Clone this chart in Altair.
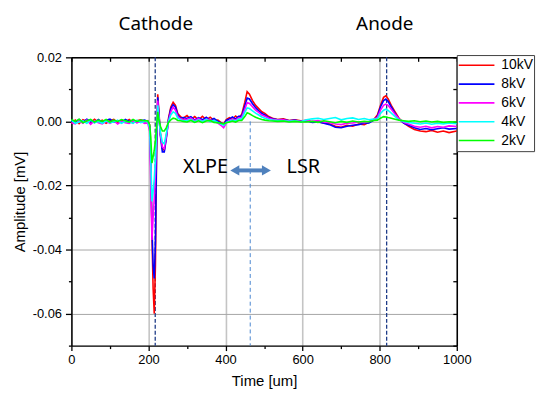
import altair as alt
import pandas as pd

# ---------------- data (amplitudes, in µV) ----------------
series = ["10kV", "8kV", "6kV", "4kV", "2kV"]
colors = ["#ff0000", "#0000ff", "#ff00ff", "#00ffff", "#00ff00"]

time_um = [0, 10, 20, 30, 40, 50, 60, 70, 80, 90, 100, 110, 120, 130, 140, 150, 160, 170, 180, 190,
           198, 203, 206, 209, 212, 215, 218, 221, 224, 227, 231, 236, 241, 246, 252, 258, 264, 270, 276, 283, 290,
           300, 310, 320, 330, 340, 350, 360, 370, 380, 388, 395, 402, 410, 418, 426, 434, 442,
           450, 456, 462, 470, 478, 486, 494, 502, 512, 522, 535, 550, 565, 580, 595,
           610, 625, 640, 655, 670, 685, 700, 715, 730, 745, 760, 772, 784,
           794, 802, 810, 816, 822, 830, 840, 850, 862, 875, 890, 905, 920, 935, 950, 965, 980, 1000]

amp_10kV = [-0.6, 0.4, -0.7, 0.5, 0.0, -0.4, 0.7, -0.2, 0.4, -0.6, 0.2, 0.6, -0.4, 0.4, -0.2, 0.6, -0.4, 0.2, 0.5, -0.2,
            0.2, -1.0, -12.0, -35.0, -52.0, -60.0, -45.0, -10.0, 8.5, 3.0, -4.0, -8.5, -9.0, -5.0, 1.0, 4.5, 6.0, 5.0, 2.5, 1.5, 1.0,
            1.8, 0.6, 1.5, 0.4, 1.6, 0.5, 1.3, 0.3, 0.4, -0.3, -0.8, 0.6, 1.2, 0.6, 1.7, 1.0, 2.2,
            6.0, 9.3, 8.5, 6.5, 5.0, 4.0, 3.0, 2.5, 1.5, 1.0, 0.6, 0.8, 0.3, 0.5, 0.2,
            0.3, -0.2, 0.0, -0.5, -0.8, -1.5, -1.8, -1.2, -1.5, -0.8, -1.0, -0.3, 0.5,
            2.0, 5.0, 7.5, 8.0, 7.0, 5.0, 3.0, 1.0, -0.5, -1.5, -2.5, -3.0, -3.2, -2.8, -3.4, -3.0, -3.5, -3.0]

amp_8kV = [0.2, -0.4, 0.6, -0.2, 0.7, 0.0, -0.4, 0.6, -0.2, 0.4, 0.7, -0.2, 0.2, -0.4, 0.6, 0.0, 0.4, -0.4, 0.2, 0.4,
           0.0, -1.5, -14.0, -33.0, -45.0, -49.0, -38.0, -8.0, 7.5, 2.5, -4.5, -9.5, -9.5, -5.5, 0.5, 4.0, 5.2, 4.5, 2.0, 1.0, 1.2,
           0.9, 1.5, 0.4, 1.2, 0.5, 1.3, 0.4, 0.9, 0.0, -0.5, -1.0, 0.3, 0.8, 1.4, 0.7, 1.6, 1.7,
           4.8, 7.3, 7.0, 5.5, 4.3, 3.3, 2.5, 2.0, 1.2, 0.8, 0.5, 0.6, 0.2, 0.4, 0.0,
           0.2, -0.3, -0.2, -0.6, -1.0, -1.8, -2.0, -1.5, -1.2, -1.0, -0.6, -0.5, 0.3,
           1.5, 4.5, 6.5, 7.0, 6.2, 4.5, 2.5, 0.8, -0.5, -1.2, -2.0, -2.5, -2.2, -2.6, -2.3, -2.0, -2.4, -2.2]

amp_6kV = [-0.4, -0.8, 0.2, -0.6, 0.4, -0.9, 0.2, -0.4, -0.8, 0.0, -0.6, 0.2, -0.8, 0.0, -0.4, -0.6, 0.2, -0.4, 0.0, -0.6,
           -0.5, -3.0, -20.0, -37.0, -30.0, -24.0, -16.0, -4.0, 6.5, 1.5, -4.0, -8.0, -8.5, -5.0, 0.0, 3.0, 4.5, 3.5, 1.5, 0.8, 0.5,
           0.7, 1.0, 0.2, 0.9, 0.1, 0.7, 0.5, 0.0, -0.5, -1.2, -2.0, -0.5, 0.3, 0.7, 0.4, 1.1, 1.2,
           3.8, 5.9, 5.6, 4.6, 3.5, 2.8, 2.0, 1.6, 1.0, 0.7, 0.4, 0.5, 0.1, 0.3, 0.0,
           0.4, 0.0, 0.3, -0.2, -0.3, -0.8, -1.0, -0.6, -0.5, -0.2, -0.4, 0.0, 0.6,
           1.2, 3.5, 5.0, 5.4, 5.0, 3.8, 2.2, 0.8, -0.3, -0.8, -1.5, -1.8, -1.5, -2.0, -1.6, -1.8, -1.4, -1.6]

amp_4kV = [0.4, -0.6, -0.2, 0.2, -0.6, 0.4, -0.4, 0.0, -0.6, 0.2, -0.4, -0.2, 0.4, -0.6, 0.0, -0.2, -0.6, 0.4, -0.4, 0.0,
           0.0, -2.0, -12.0, -25.0, -22.0, -18.0, -12.0, -3.0, 5.0, 1.0, -3.5, -6.5, -7.0, -4.0, 0.0, 2.0, 3.0, 2.5, 1.0, 0.5, 0.2,
           0.3, 0.6, -0.1, 0.5, 0.0, 0.6, -0.1, 0.3, -0.3, -0.8, -1.2, -0.3, 0.0, 0.4, 0.1, 0.7, 0.7,
           2.8, 4.2, 4.0, 3.3, 2.6, 2.0, 1.4, 1.0, 0.6, 0.4, 0.3, 0.2, 0.0, 0.2, -0.1,
           0.5, 0.8, 1.0, 0.6, 0.9, 1.2, 0.5, 0.9, 1.1, 0.6, 0.9, 0.5, 0.7,
           0.8, 2.5, 3.5, 3.8, 3.4, 2.6, 1.5, 0.5, 0.0, -0.3, -0.6, -0.8, -0.5, -0.9, -0.6, -0.8, -0.5, -0.7]

amp_2kV = [0.6, 0.0, 0.7, -0.4, 0.2, 0.6, -0.2, 0.4, 0.0, 0.6, -0.2, 0.4, 0.0, 0.6, 0.2, -0.2, 0.6, 0.0, 0.4, 0.2,
           0.2, -1.0, -5.0, -13.0, -11.0, -9.0, -6.0, -1.5, 3.0, 0.5, -1.5, -3.0, -3.0, -2.0, -0.3, 0.5, 1.0, 0.8, 0.3, 0.2, 0.0,
           -0.2, 0.3, -0.3, 0.2, -0.4, 0.1, 0.3, -0.3, -0.4, -0.6, -0.8, -0.4, -0.2, 0.1, -0.2, 0.3, 0.3,
           1.5, 2.7, 2.4, 1.8, 1.3, 0.9, 0.6, 0.4, 0.2, 0.1, 0.0, 0.1, -0.2, 0.0, -0.2,
           -0.2, 0.0, -0.3, 0.2, -0.1, -0.4, 0.0, -0.3, 0.1, -0.2, 0.0, -0.1, 0.3,
           0.4, 1.0, 1.5, 1.4, 1.2, 1.0, 0.7, 0.4, 0.2, 0.0, 0.2, -0.1, 0.1, -0.2, 0.0, -0.3, -0.1, -0.2]

# annotations
electrode_t = [217.5, 818]          # dark dashed lines
electrode_labels = ["Cathode", "Anode"]
electrode_label_t = [219, 813]
interface_t = [464]                 # light dashed line (XLPE/LSR interface)
region_labels = ["XLPE", "LSR"]
region_label_t = [348, 602]
region_label_v = [-0.0162, -0.0162]
arrow_t = [428, 502]
arrow_v = -0.0153
arrow_head_t = [424, 506]
arrow_head_shape = ["triangle-left", "triangle-right"]

x_ticks = [0, 200, 400, 600, 800, 1000]
x_minor = [100, 300, 500, 700, 900]
x_box = [0, 100, 200, 300, 400, 500, 600, 700, 800, 900, 1000]
y_ticks = [-0.06, -0.04, -0.02, 0.0, 0.02]
y_minor = [-0.07, -0.05, -0.03, -0.01, 0.01]
y_box = [-0.07, -0.06, -0.05, -0.04, -0.03, -0.02, -0.01, 0.0, 0.01, 0.02]

# ---------------- tables ----------------
rows = []
for name, vals in zip(series, [amp_10kV, amp_8kV, amp_6kV, amp_4kV, amp_2kV]):
    for t, v in zip(time_um, vals):
        rows.append({"t": t, "v": v / 1000.0, "s": name})   # µV -> mV
df = pd.DataFrame(rows)

W, H = 389, 291
FONT = "Liberation Sans"
xscale = alt.Scale(domain=[0, 1000], nice=False, zero=False)
yscale = alt.Scale(domain=[-0.07, 0.02], nice=False, zero=False)

common_axis = dict(domainColor="black", domainWidth=1.5, tickColor="black", tickWidth=1.3,
                   labelFont=FONT, labelFontSize=13, labelColor="black",
                   titleFont=FONT, titleFontSize=15, titleFontWeight="normal", titleColor="black")

x_main_axis = alt.Axis(values=x_ticks, title="Time [um]", orient="bottom", tickSize=5, labelPadding=3,
                       grid=True, gridColor="#c4c4c4", gridWidth=1.6, titlePadding=7, format="d",
                       labelFlush=False, labelOverlap=False, **common_axis)
y_main_axis = alt.Axis(values=y_ticks, title="Amplitude [mV]", orient="left", tickSize=6, labelPadding=4,
                       grid=True, gridColor="#a6a6a6", gridWidth=1, titlePadding=5,
                       labelExpr="replace(format(datum.value, '.2f'), '\u2212', '-')",
                       labelFlush=False, labelOverlap=False, **common_axis)
x_minor_axis = alt.Axis(values=x_minor, title="", orient="bottom", tickSize=3, labels=False,
                        grid=False, domain=False, tickColor="black", tickWidth=1.3)
y_minor_axis = alt.Axis(values=y_minor, title="", orient="left", tickSize=3, labels=False,
                        grid=False, domain=False, tickColor="black", tickWidth=1.3)
x_top_axis = alt.Axis(values=x_box, title="", orient="bottom", offset=-H, tickSize=4, labels=False,
                      grid=False, domainColor="black", domainWidth=1.5, tickColor="black", tickWidth=1.3)
y_right_axis = alt.Axis(values=y_box, title="", orient="left", offset=-W, tickSize=4, labels=False,
                        grid=False, domainColor="black", domainWidth=1.5, tickColor="black", tickWidth=1.3)

legend = alt.Legend(orient="none", legendX=389, legendY=-2.3, title=None,
                    symbolType="stroke", symbolSize=1296, symbolStrokeWidth=1.6, clipHeight=18.6,
                    rowPadding=0, labelOffset=6, padding=1, strokeColor="#404040", fillColor="white",
                    labelFont=FONT, labelFontSize=14, labelColor="black", labelAlign="left")

lines = alt.Chart(df).mark_line(strokeWidth=1.6).encode(
    x=alt.X("t:Q", scale=xscale, axis=x_main_axis),
    y=alt.Y("v:Q", scale=yscale, axis=y_main_axis),
    color=alt.Color("s:N", scale=alt.Scale(domain=series, range=colors), legend=legend),
)

minor = alt.Chart(df).mark_point(opacity=0).encode(
    x=alt.X("t:Q", scale=xscale, axis=x_minor_axis),
    y=alt.Y("v:Q", scale=yscale, axis=y_minor_axis),
)
box = alt.Chart(df).mark_point(opacity=0).encode(
    x=alt.X("t:Q", scale=xscale, axis=x_top_axis),
    y=alt.Y("v:Q", scale=yscale, axis=y_right_axis),
)

electrode_df = pd.DataFrame({"t": electrode_t})
electrodes = alt.Chart(electrode_df).mark_rule(color="#1f3c88", strokeDash=[4, 2], strokeWidth=1.3).encode(
    x=alt.X("t:Q", scale=xscale, axis=None)
)

interface_df = pd.DataFrame({"t": interface_t, "v0": [0.0], "v1": [-0.07]})
interface = alt.Chart(interface_df).mark_rule(color="#4a86d0", strokeDash=[4, 3], strokeWidth=1).encode(
    x=alt.X("t:Q", scale=xscale, axis=None),
    y=alt.Y("v0:Q", scale=yscale, axis=None),
    y2="v1:Q",
)

top_df = pd.DataFrame({"t": electrode_label_t, "label": electrode_labels})
top_text = alt.Chart(top_df).mark_text(font="Noto Sans", fontSize=19, baseline="alphabetic",
                                       align="center", color="black").encode(
    x=alt.X("t:Q", scale=xscale, axis=None),
    y=alt.value(-28),
    text="label:N",
)

region_df = pd.DataFrame({"t": region_label_t, "v": region_label_v, "label": region_labels})
region_text = alt.Chart(region_df).mark_text(font="Noto Sans", fontSize=20, baseline="alphabetic",
                                             align="center", color="black").encode(
    x=alt.X("t:Q", scale=xscale, axis=None),
    y=alt.Y("v:Q", scale=yscale, axis=None),
    text="label:N",
)

shaft_df = pd.DataFrame({"t0": [arrow_t[0]], "t1": [arrow_t[1]], "v": [arrow_v]})
shaft = alt.Chart(shaft_df).mark_rule(color="#4f81bd", strokeWidth=4).encode(
    x=alt.X("t0:Q", scale=xscale, axis=None),
    x2="t1:Q",
    y=alt.Y("v:Q", scale=yscale, axis=None),
)
heads_df = pd.DataFrame({"t": arrow_head_t, "v": [arrow_v, arrow_v], "shape": arrow_head_shape})
heads = alt.Chart(heads_df).mark_point(filled=True, size=110, color="#4f81bd", opacity=1).encode(
    x=alt.X("t:Q", scale=xscale, axis=None),
    y=alt.Y("v:Q", scale=yscale, axis=None),
    shape=alt.Shape("shape:N", scale=None),
)

chart = alt.layer(
    electrodes, interface, minor, box, lines, shaft, heads, region_text, top_text
).resolve_axis(x="independent", y="independent").properties(
    width=W, height=H,
    autosize=alt.AutoSizeParams(type="none"),
    padding={"left": 64, "top": 48, "right": 84, "bottom": 45},
).configure_view(stroke=None).configure(background="white")

chart.save("out.html", embed_options={"renderer": "svg", "actions": False})
